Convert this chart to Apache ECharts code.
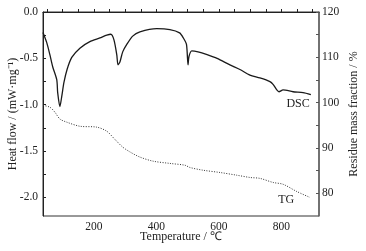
<!DOCTYPE html>
<html>
<head>
<meta charset="utf-8">
<script src="https://cdn.jsdelivr.net/npm/echarts@6/dist/echarts.min.js"></script>
<style>
html, body { margin: 0; padding: 0; background: #fff; }
#chart { width: 366px; height: 251px; }
</style>
</head>
<body>
<div id="chart"></div>
<script>
// DSC 曲线 (温度 / 热流)
var dscT = [37, 49, 59, 68, 81, 84, 91, 97, 104, 114, 129, 155, 187, 219, 241, 254, 264, 273, 277, 283, 292, 305, 324, 347, 401, 443, 474, 486, 496, 501, 504, 513, 533, 562, 594, 635, 667, 699, 731, 763, 773, 785, 792, 805, 837, 869, 894];
var dscV = [-0.22, -0.33, -0.46, -0.59, -0.73, -0.87, -1.02, -0.91, -0.76, -0.62, -0.49, -0.39, -0.32, -0.28, -0.25, -0.24, -0.30, -0.46, -0.57, -0.54, -0.43, -0.35, -0.26, -0.215, -0.18, -0.19, -0.225, -0.28, -0.35, -0.57, -0.48, -0.42, -0.43, -0.46, -0.50, -0.57, -0.62, -0.68, -0.71, -0.75, -0.78, -0.84, -0.86, -0.84, -0.86, -0.87, -0.89];
// TG 曲线 (温度 / 残余质量分数)
var tgT = [37, 59, 75, 91, 113, 155, 209, 241, 267, 292, 316, 347, 389, 443, 491, 507, 549, 603, 657, 699, 731, 773, 805, 849, 891];
var tgV = [99.4, 99.0, 97.9, 96.4, 95.7, 94.8, 94.6, 93.7, 91.9, 90.2, 89.1, 88.0, 87.1, 86.6, 86.2, 85.7, 85.1, 84.6, 84.0, 83.5, 83.3, 82.4, 82.0, 80.4, 79.1];
// 坐标轴刻度
var xTicks = [50, 100, 150, 200, 250, 300, 350, 400, 450, 500, 550, 600, 650, 700, 750, 800, 850, 900];
var xLabels = [200, 400, 600, 800];
var leftTicks = [0, -0.25, -0.5, -0.75, -1.0, -1.25, -1.5, -1.75, -2.0];
var leftLabels = [0, -0.5, -1.0, -1.5, -2.0];
var rightTicks = [80, 85, 90, 95, 100, 105, 110, 115, 120];
var rightLabels = [80, 90, 100, 110, 120];

function pairs(xs, ys) {
	var out = [];
	for (var i = 0; i < xs.length; i++) {
		out.push([xs[i], ys[i]]);
	}
	return out;
}

var myChart = echarts.init(document.getElementById('chart'));
var font = 'Liberation Serif';
var ink = '#222';

option = {
	animation : false,
	backgroundColor : '#fff',
	textStyle : { fontFamily : font },
	grid : {
		left : 43,
		right : 47,
		top : 12,
		bottom : 35,
		outerBoundsMode : 'none',
		containLabel : false,
		show : true,
		borderColor : '#333',
		borderWidth : 1
	},
	xAxis : {
		type : 'value',
		min : 37,
		max : 920,
		name : 'Temperature / ℃',
		nameLocation : 'middle',
		nameGap : 15,
		nameMoveOverlap : false,
		nameTextStyle : { fontFamily : font, fontSize : 12, color : ink },
		axisLine : { lineStyle : { color : ink, width : 1 } },
		axisTick : { inside : true, length : 3, customValues : xTicks, lineStyle : { color : ink } },
		axisLabel : { customValues : xLabels, margin : 5, fontFamily : font, fontSize : 11.5, color : ink },
		splitLine : { show : false }
	},
	yAxis : [ {
		type : 'value',
		min : -2.2,
		max : 0,
		name : 'Heat flow / (mW·mg⁻¹)',
		nameLocation : 'middle',
		nameRotate : 90,
		nameGap : 24,
		nameMoveOverlap : false,
		nameTextStyle : { fontFamily : font, fontSize : 12, color : ink },
		axisLine : { show : true, lineStyle : { color : ink, width : 1 } },
		axisTick : { show : true, inside : true, length : 3, customValues : leftTicks, lineStyle : { color : ink } },
		axisLabel : {
			customValues : leftLabels,
			margin : 5,
			fontFamily : font,
			fontSize : 11.5,
			color : ink,
			formatter : function(v) {
				return v.toFixed(1);
			}
		},
		splitLine : { show : false }
	}, {
		type : 'value',
		position : 'right',
		min : 75,
		max : 120,
		name : 'Residue mass fraction / %',
		nameLocation : 'middle',
		nameRotate : 90,
		nameGap : 29,
		nameMoveOverlap : false,
		nameTextStyle : { fontFamily : font, fontSize : 12, color : ink },
		axisLine : { show : true, lineStyle : { color : '#666', width : 1.5 } },
		axisTick : { show : true, inside : true, length : 3, customValues : rightTicks, lineStyle : { color : '#555' } },
		axisLabel : { customValues : rightLabels, margin : 3, fontFamily : font, fontSize : 11.5, color : ink },
		splitLine : { show : false }
	} ],
	series : [ {
		name : 'DSC',
		type : 'line',
		yAxisIndex : 0,
		data : pairs(dscT, dscV),
		showSymbol : false,
		smooth : 0.25,
		lineStyle : { color : '#1a1a1a', width : 1.3 },
		markPoint : {
			symbol : 'circle',
			symbolSize : 0,
			label : { show : true, position : 'inside', formatter : 'DSC', fontFamily : font, fontSize : 12, color : ink },
			data : [ { coord : [ 853, -0.99 ] } ]
		}
	}, {
		name : 'TG',
		type : 'line',
		yAxisIndex : 1,
		data : pairs(tgT, tgV),
		showSymbol : false,
		smooth : 0.3,
		lineStyle : { color : '#333', width : 1, type : [ 1, 1.5 ] },
		markPoint : {
			symbol : 'circle',
			symbolSize : 0,
			label : { show : true, position : 'inside', formatter : 'TG', fontFamily : font, fontSize : 12, color : ink },
			data : [ { coord : [ 815, 78.5 ] } ]
		}
	} ]
};

myChart.setOption(option);
</script>
</body>
</html>
